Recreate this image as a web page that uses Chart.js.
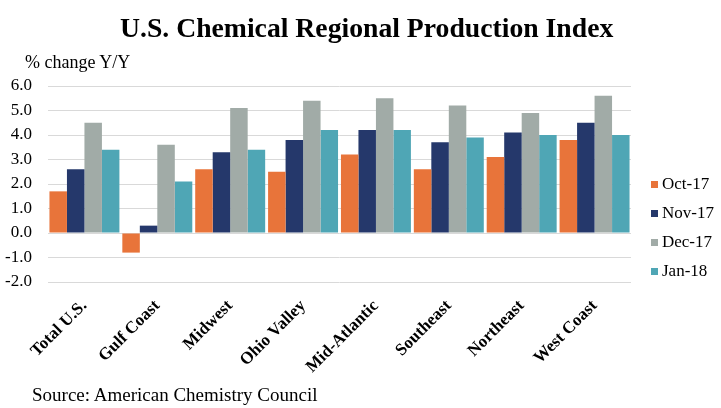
<!DOCTYPE html>
<html lang="en">
<head>
<meta charset="UTF-8">
<title>U.S. Chemical Regional Production Index</title>
<script src="https://cdn.jsdelivr.net/npm/chart.js"></script>
<style>
    body { margin: 0; background: #fff; font-family: "Liberation Serif", "Times New Roman", serif; }
    #wrap { position: relative; width: 721px; height: 408px; overflow: hidden; }
    #chart { position: absolute; left: 0; top: 0; }
    .txt { position: absolute; white-space: nowrap; color: #000; line-height: 1; }
    #title { left: 120px; top: 13.5px; font-size: 27.7px; font-weight: bold; }
    #ylabel { left: 25px; top: 53px; font-size: 18px; }
    #source { left: 32px; top: 384.5px; font-size: 19px; }
    .leg { position: absolute; left: 651px; font-size: 17px; line-height: 1; }
    .leg span.box { position: absolute; left: 0; width: 7px; height: 7px; }
    .leg span.lbl { position: absolute; left: 11px; top: 0; white-space: nowrap; }
</style>
</head>
<body>
<div id="wrap">
    <canvas id="chart" width="721" height="408"></canvas>
    <div class="txt" id="title">U.S. Chemical Regional Production Index</div>
    <div class="txt" id="ylabel">% change Y/Y</div>
    <div class="txt" id="source">Source: American Chemistry Council</div>
</div>
<script>
// regions on the x axis
const regions = ['Total U.S.', 'Gulf Coast', 'Midwest', 'Ohio Valley', 'Mid-Atlantic', 'Southeast', 'Northeast', 'West Coast'];

// % change Y/Y per month
const oct17 = [1.7, -0.8, 2.6, 2.5, 3.2, 2.6, 3.1, 3.8];
const nov17 = [2.6, 0.3, 3.3, 3.8, 4.2, 3.7, 4.1, 4.5];
const dec17 = [4.5, 3.6, 5.1, 5.4, 5.5, 5.2, 4.9, 5.6];
const jan18 = [3.4, 2.1, 3.4, 4.2, 4.2, 3.9, 4.0, 4.0];

const seriesNames = ['Oct-17', 'Nov-17', 'Dec-17', 'Jan-18'];
const seriesColors = ['#E8743A', '#25386B', '#A1ABA7', '#4FA6B5'];

const yTicks = [-2, -1, 0, 1, 2, 3, 4, 5, 6];

const serif = '"Liberation Serif", "Times New Roman", serif';

const datasets = [oct17, nov17, dec17, jan18].map((vals, i) => ({
    label: seriesNames[i],
    data: vals,
    backgroundColor: seriesColors[i],
    borderWidth: 0,
    categoryPercentage: 0.96,
    barPercentage: 1.0
}));

new Chart(document.getElementById('chart'), {
    type: 'bar',
    data: { labels: regions, datasets: datasets },
    options: {
        responsive: false,
        animation: false,
        layout: { padding: { top: 86, right: 90, left: 0, bottom: 0 } },
        plugins: {
            legend: { display: false },
            tooltip: { enabled: false }
        },
        scales: {
            x: {
                grid: { display: false },
                border: { display: false },
                ticks: {
                    color: '#000',
                    font: { family: serif, size: 17, weight: 'bold' },
                    minRotation: 45,
                    maxRotation: 45,
                    autoSkip: false,
                    padding: 6
                },
                afterFit: s => { s.height = 126; }
            },
            y: {
                min: yTicks[0],
                max: yTicks[yTicks.length - 1],
                afterBuildTicks: s => { s.ticks = yTicks.map(v => ({ value: v })); },
                grid: { color: '#D9D9D9', lineWidth: 1, drawTicks: false },
                border: { display: false },
                ticks: {
                    color: '#000',
                    font: { family: serif, size: 17 },
                    padding: 16,
                    callback: v => v.toFixed(1)
                },
                afterFit: s => { s.width = 48; }
            }
        }
    }
});

// legend at the right, same names/colours as the datasets
const legendBaselines = [189, 218, 247, 276];
const wrap = document.getElementById('wrap');
seriesNames.forEach((name, i) => {
    const item = document.createElement('div');
    item.className = 'leg';
    item.style.top = (legendBaselines[i] - 14.2) + 'px';
    item.innerHTML = '<span class="box" style="top:6px;background:' + seriesColors[i] + '"></span><span class="lbl">' + name + '</span>';
    wrap.appendChild(item);
});
</script>
</body>
</html>
